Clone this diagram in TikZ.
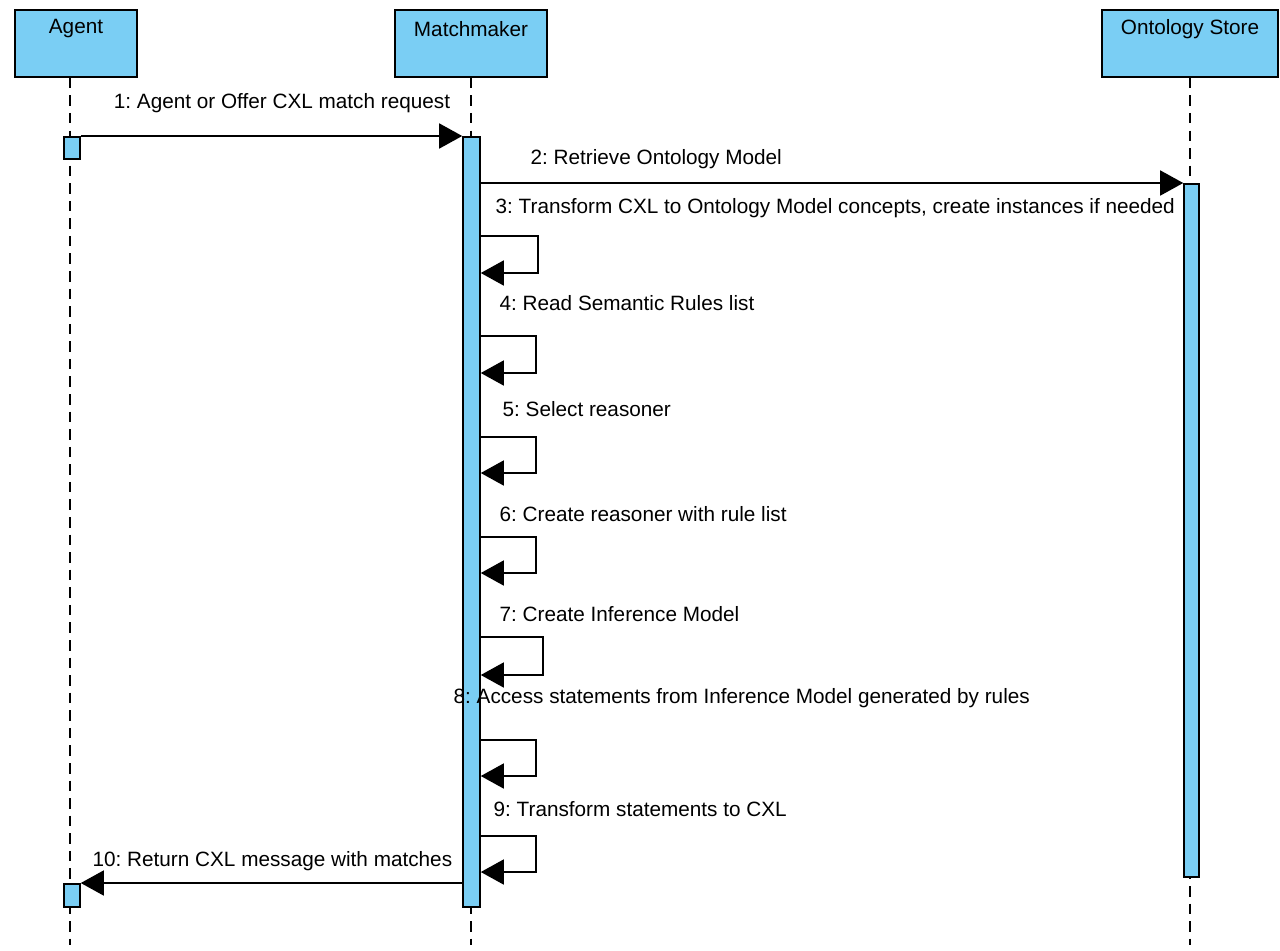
\documentclass[tikz,border=0pt]{standalone}
\usepackage{fontspec}
\setmainfont{Liberation Sans}
\usepackage{xcolor}
\usetikzlibrary{arrows.meta}
\definecolor{lifeblue}{RGB}{122,206,244}
\frenchspacing

\begin{document}
\begin{tikzpicture}[x=0.02cm, y=-0.02cm, line width=0.9pt,
    font=\fontsize{11.8}{13}\selectfont,
    head/.style={draw, fill=lifeblue, inner sep=0pt},
    act/.style={draw, fill=lifeblue, inner sep=0pt, minimum width=16*0.02cm},
    life/.style={dash pattern=on 6pt off 4pt},
    msg/.style={-{Triangle[length=4.6mm, width=5mm]}}]
  \useasboundingbox (0,0) rectangle (1280,950);
  % lifelines
  \coordinate (agentEnd) at (70,945);
  \coordinate (mmEnd) at (471,945);
  \coordinate (osEnd) at (1190,945);
  \node[head, minimum width=122*0.02cm, minimum height=67*0.02cm] (agent) at (76,43.5) {};
  \node[head, minimum width=152*0.02cm, minimum height=67*0.02cm] (mm) at (471,43.5) {};
  \node[head, minimum width=176*0.02cm, minimum height=67*0.02cm] (os) at (1190,43.5) {};
  \node (agentTxt) at (agent.north |- 0,29) {Agent};
  \node (mmTxt) at (mm.north |- 0,29) {Matchmaker};
  \node (osTxt) at (os.north |- 0,29) {Ontology Store};
  \draw[life] (agent.south -| agentEnd) -- (agentEnd);
  \draw[life] (mm.south) -- (mmEnd);
  \draw[life] (os.south) -- (osEnd);
  % activations
  \node[act, minimum height=22*0.02cm, anchor=north] (aact1) at (72,136) {};
  \node[act, minimum height=23*0.02cm, anchor=north] (aact2) at (72,883) {};
  \node[act, minimum height=770*0.02cm, anchor=north, minimum width=17*0.02cm] (mact) at (471.5,136) {};
  \node[act, minimum height=693*0.02cm, anchor=north, minimum width=15*0.02cm] (oact) at (1191.5,183) {};
  % messages
  \draw[msg] (aact1.north east) -- (mact.north west);
  \node (m1) at (282,103) {1: Agent or Offer CXL match request};
  \draw[msg] (mact.east |- oact.north west) -- (oact.north west);
  \node[anchor=mid west] (m2) at (524,160) {2: Retrieve Ontology Model};
  % self calls
  \foreach \n/\t/\r/\b in {3/236/538/273, 4/336/536/373, 5/437/536/473, 6/537/536/573,
                           7/637/543/675, 8/740/536/776, 9/836/536/872} {
    \coordinate (loop\n) at (\r,\t);
    \draw[msg] (mact.east |- loop\n) -| (\r,\b) -- (mact.east |- 0,\b);
  }
  \node[anchor=mid west] (m3) at (489,209) {3: Transform CXL to Ontology Model concepts, create instances if needed};
  \node[anchor=mid west] (m4) at (493,306) {4: Read Semantic Rules list};
  \node[anchor=mid west] (m5) at (496,412) {5: Select reasoner};
  \node[anchor=mid west] (m6) at (493,517) {6: Create reasoner with rule list};
  \node[anchor=mid west] (m7) at (493,617) {7: Create Inference Model};
  \node[anchor=mid west] (m8) at (447,699) {8: Access statements from Inference Model generated by rules};
  \node[anchor=mid west] (m9) at (487,812) {9: Transform statements to CXL};
  \draw[msg] (mact.west |- aact2.north east) -- (aact2.north east);
  \node[anchor=mid west] (m10) at (86,862) {10: Return CXL message with matches};
\end{tikzpicture}
\end{document}
